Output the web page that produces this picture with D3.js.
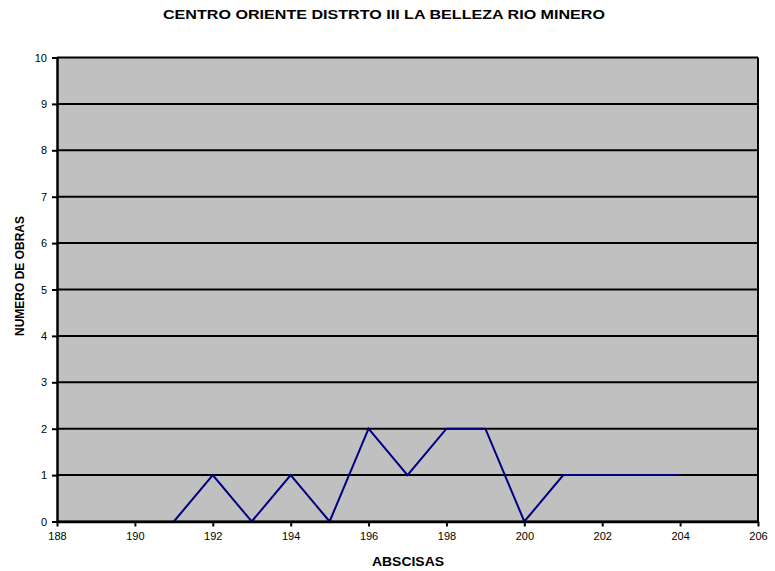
<!DOCTYPE html>
<html><head><meta charset="utf-8">
<script src="https://cdn.jsdelivr.net/npm/d3@7"></script>
<style>body{margin:0;background:#fff;font-family:"Liberation Sans",Arial,sans-serif}</style>
</head><body><div id="chart"></div>
<script>
const xValues = [191,192,193,194,195,196,197,198,199,200,201,202,203,204];
const yValues = [0,1,0,1,0,2,1,2,2,0,1,1,1,1];
const xTicks = [188,190,192,194,196,198,200,202,204,206];
const yTicks = [0,1,2,3,4,5,6,7,8,9,10];
const title = "CENTRO ORIENTE DISTRTO III LA BELLEZA RIO MINERO";
const xTitle = "ABSCISAS";
const yTitle = "NUMERO DE OBRAS";

const W=775,H=571, L=57, R=758, T=57.5, B=521.5;
const svg=d3.select("#chart").append("svg").attr("width",W).attr("height",H);
const x=d3.scaleLinear().domain([188,206]).range([L,R]);
const y=d3.scaleLinear().domain([0,10]).range([B,T]);

svg.append("rect").attr("x",L).attr("y",T).attr("width",R-L).attr("height",B-T).attr("fill","#c0c0c0");
svg.append("g").selectAll("line").data(yTicks).join("line")
  .attr("x1",L).attr("x2",R).attr("y1",d=>y(d)).attr("y2",d=>y(d)).attr("stroke","#000").attr("stroke-width",2);
svg.append("line").attr("x1",R).attr("x2",R).attr("y1",T).attr("y2",B).attr("stroke","#000").attr("stroke-width",2);

const line=d3.line().x((d,i)=>x(xValues[i])).y(d=>y(d));
svg.append("path").datum(yValues).attr("d",line).attr("fill","none").attr("stroke","#000080").attr("stroke-width",2);

const xa=svg.append("g").attr("transform",`translate(0,${B})`).call(d3.axisBottom(x).tickValues(xTicks).tickSize(5).tickSizeOuter(0).tickPadding(6));
const ya=svg.append("g").attr("transform",`translate(${L},0)`).call(d3.axisLeft(y).tickValues(yTicks).tickSize(5).tickSizeOuter(0).tickPadding(5));
[xa,ya].forEach(a=>{a.select(".domain").attr("stroke-width",2.5);a.selectAll(".tick line").attr("stroke-width",2);
  a.selectAll("text").attr("font-family","Liberation Sans, Arial, sans-serif").attr("font-size",11).attr("fill","#000");});

svg.append("text").attr("x",384).attr("y",18.5).attr("text-anchor","middle").attr("font-size",13).attr("font-weight","bold")
  .attr("textLength",442).attr("lengthAdjust","spacingAndGlyphs").text(title);
svg.append("text").attr("x",408).attr("y",566).attr("text-anchor","middle").attr("font-size",12).attr("font-weight","bold")
  .attr("textLength",72).attr("lengthAdjust","spacingAndGlyphs").text(xTitle);
svg.append("text").attr("transform",`translate(23.5,276) rotate(-90)`).attr("text-anchor","middle").attr("font-size",12).attr("font-weight","bold").text(yTitle);
</script></body></html>
